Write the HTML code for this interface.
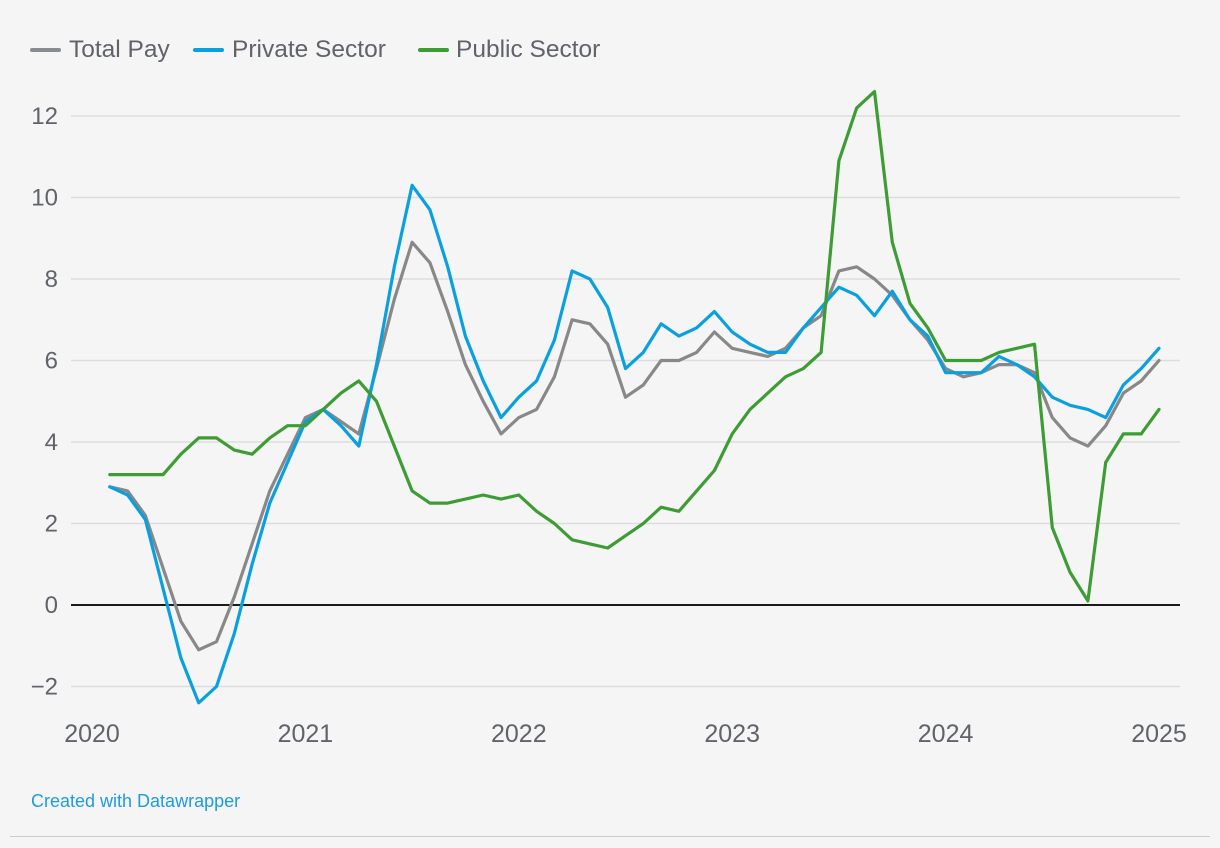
<!DOCTYPE html>
<html><head><meta charset="utf-8">
<style>
body{margin:0;width:1220px;height:848px;background:#f5f5f5;font-family:"Liberation Sans",sans-serif;overflow:hidden;position:relative}
.li{position:absolute;top:35px;font-size:24.5px;color:#61636b;white-space:nowrap;line-height:30px}
.sw{position:absolute;top:48px;width:31px;height:4px;border-radius:2px}
.foot{position:absolute;left:31px;top:791px;font-size:18px;color:#1d9be0}
.rule{position:absolute;left:10px;right:10px;top:836px;height:1px;background:#ccc}
</style></head><body>
<div>
<div class="sw" style="left:30px;background:#888c91"></div>
<div class="li" style="left:69px">Total Pay</div>
<div class="sw" style="left:193px;background:#0aa0e0"></div>
<div class="li" style="left:232px">Private Sector</div>
<div class="sw" style="left:418px;background:#3e9c35"></div>
<div class="li" style="left:456px">Public Sector</div>
</div>
<svg id="chart" width="1220" height="848" style="position:absolute;left:0;top:0"></svg>
<div class="foot">Created with Datawrapper</div>
<div class="rule"></div>
<script>
const yTicks=[-2,0,2,4,6,8,10,12];
const xTickLabels=["2020","2021","2022","2023","2024","2025"];
const totalPay=[2.9,2.8,2.2,0.9,-0.4,-1.1,-0.9,0.2,1.5,2.8,3.7,4.6,4.8,4.5,4.2,5.8,7.5,8.9,8.4,7.2,5.9,5.0,4.2,4.6,4.8,5.6,7.0,6.9,6.4,5.1,5.4,6.0,6.0,6.2,6.7,6.3,6.2,6.1,6.3,6.8,7.1,8.2,8.3,8.0,7.6,7.0,6.5,5.8,5.6,5.7,5.9,5.9,5.7,4.6,4.1,3.9,4.4,5.2,5.5,6.0];
const privateSector=[2.9,2.7,2.1,0.4,-1.3,-2.4,-2.0,-0.7,1.0,2.5,3.5,4.5,4.8,4.4,3.9,5.9,8.3,10.3,9.7,8.3,6.6,5.5,4.6,5.1,5.5,6.5,8.2,8.0,7.3,5.8,6.2,6.9,6.6,6.8,7.2,6.7,6.4,6.2,6.2,6.8,7.3,7.8,7.6,7.1,7.7,7.0,6.6,5.7,5.7,5.7,6.1,5.9,5.6,5.1,4.9,4.8,4.6,5.4,5.8,6.3];
const publicSector=[3.2,3.2,3.2,3.2,3.7,4.1,4.1,3.8,3.7,4.1,4.4,4.4,4.8,5.2,5.5,5.0,3.9,2.8,2.5,2.5,2.6,2.7,2.6,2.7,2.3,2.0,1.6,1.5,1.4,1.7,2.0,2.4,2.3,2.8,3.3,4.2,4.8,5.2,5.6,5.8,6.2,10.9,12.2,12.6,8.9,7.4,6.8,6.0,6.0,6.0,6.2,6.3,6.4,1.9,0.8,0.1,3.5,4.2,4.2,4.8];
const NS="http://www.w3.org/2000/svg";
const svg=document.getElementById('chart');
const X0=92,X1=1159;
const x=m=>X0+(X1-X0)*m/60;
const y=v=>605-v*40.75;
function mk(t,a){const e=document.createElementNS(NS,t);for(const k in a)e.setAttribute(k,a[k]);svg.appendChild(e);return e;}
yTicks.forEach(v=>{
  const l=mk('line',{x1:71,x2:1180,y1:y(v),y2:y(v),stroke:v===0?'#1a1a1a':'#dddddd','stroke-width':v===0?2:1.5});
  
  
  const t=mk('text',{x:58,y:y(v)+8,'text-anchor':'end','font-size':24,fill:'#61636b','font-family':'Liberation Sans, sans-serif'});
  t.textContent=v<0?'\u2212'+(-v):String(v);
  
  
});
xTickLabels.forEach((s,i)=>{
  const t=mk('text',{x:x(i*12),y:742,'text-anchor':'middle','font-size':25,fill:'#61636b','font-family':'Liberation Sans, sans-serif'});
  t.textContent=s;
  
  
});
function series(arr,col,name){
  const d=arr.map((v,i)=>(i?'L':'M')+x(i+1).toFixed(1)+','+y(v).toFixed(1)).join('');
  const p=mk('path',{d:d,fill:'none',stroke:col,'stroke-width':3.2,'stroke-linejoin':'round','stroke-linecap':'round'});
  
  
}
series(totalPay,'#888888','total-pay-line');
series(privateSector,'#0aa0e0','private-sector-line');
series(publicSector,'#3e9c35','public-sector-line');
</script>
</body></html>
